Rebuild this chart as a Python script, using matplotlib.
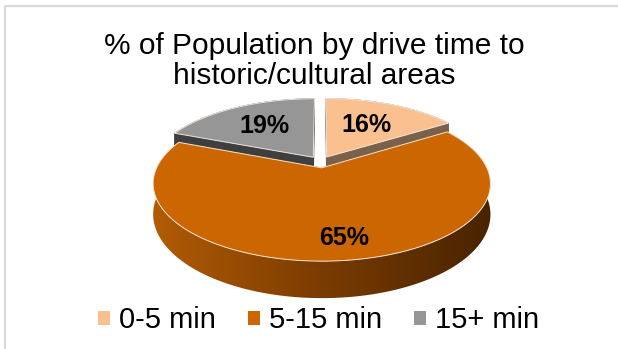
import numpy as np
import matplotlib
matplotlib.use("Agg")
import matplotlib.pyplot as plt
from matplotlib.patches import Polygon, Patch
from matplotlib.colors import LinearSegmentedColormap

# ---- data ----
categories = ["0-5 min", "5-15 min", "15+ min"]
shares = [16, 65, 19]
top_colors = ["#FAC090", "#CC6600", "#969696"]
side_colors = ["#7B6149", "#8A4500", "#3F3F3F"]
title_lines = ["% of Population by drive time to", "historic/cultural areas"]

FONT = "Liberation Sans"

# ---- 3-D pie geometry (pixel space, perspective view) ----
CX, CY = 320.5, 162.0      # centre of the top face
A, B = 162.5, 72.0         # horizontal / depth radii
K = 0.20                   # perspective strength
D = 29.0                   # thickness of the disc
EXPLODE = 0.08
LABEL_R = [0.58, 0.80, 0.60]
LABEL_DT = [0.0, -0.05, 0.0]


def project(x, z, down):
    w = 1.0 + K * np.asarray(z)
    return CX + A * np.asarray(x) / w, CY + (-B * np.asarray(z) + D * down) / w


def rim(theta, off, down):
    sx, sy = project(np.sin(theta) + off[0], np.cos(theta) + off[1], down)
    return np.column_stack([np.atleast_1d(sx), np.atleast_1d(sy)])


fig = plt.figure(figsize=(6.18, 3.49), dpi=100)
ax = fig.add_axes([0, 0, 1, 1])
ax.set_xlim(0, 618)
ax.set_ylim(349, 0)
ax.axis("off")

# chart-area frame
ax.plot([4.5, 618], [5.5, 5.5], color="#d9d9d9", lw=1.6, clip_on=False, solid_capstyle="butt")
ax.plot([4.5, 4.5], [5.5, 349], color="#d9d9d9", lw=1.6, clip_on=False, solid_capstyle="butt")

# slice angles, clockwise from 12 o'clock
total = float(sum(shares))
bounds = np.concatenate([[0.0], np.cumsum(shares) / total * 2 * np.pi])

side_cmap = LinearSegmentedColormap.from_list(
    "side", ["#B35C05", "#7A3C00", "#482300"])

draw_order = [2, 0, 1]
for i in draw_order:
    t0, t1 = bounds[i], bounds[i + 1]
    tm = 0.5 * (t0 + t1)
    off = (EXPLODE * np.sin(tm), EXPLODE * np.cos(tm))
    th = np.linspace(t0, t1, 240)
    apex_top = np.array(project(off[0], off[1], 0.0), dtype=float)
    apex_bot = np.array(project(off[0], off[1], 1.0), dtype=float)
    arc_top = rim(th, off, 0.0)
    arc_bot = rim(th, off, 1.0)

    # radial cut faces
    for t in (t0, t1):
        face = np.vstack([apex_top, rim(t, off, 0.0), rim(t, off, 1.0), apex_bot])
        ax.add_patch(Polygon(face, closed=True, facecolor=side_colors[i],
                             edgecolor=side_colors[i], lw=0.5))

    # outer curved face
    outer = np.vstack([arc_top, arc_bot[::-1]])
    if i == 1:
        clip = Polygon(outer, closed=True, facecolor="none", edgecolor="none")
        ax.add_patch(clip)
        grad = np.linspace(0, 1, 256)[None, :]
        img = ax.imshow(grad, cmap=side_cmap, aspect="auto",
                        extent=(CX - A * 1.05, CX + A * 1.05, 310, 120),
                        interpolation="bilinear")
        img.set_clip_path(clip)
    else:
        ax.add_patch(Polygon(outer, closed=True, facecolor=side_colors[i],
                             edgecolor=side_colors[i], lw=0.5))

    # top face
    top = np.vstack([apex_top, arc_top])
    ax.add_patch(Polygon(top, closed=True, facecolor=top_colors[i],
                         edgecolor="#F4E6D8", lw=0.7))

    # data label
    r = LABEL_R[i]
    ta = tm + LABEL_DT[i]
    lx, ly = project(r * np.sin(ta) + off[0], r * np.cos(ta) + off[1], 0.0)
    ax.text(float(lx), float(ly), f"{shares[i]}%", ha="center", va="center",
            fontsize=18, fontweight="bold", family=FONT, color="black")

# title
ax.text(314, 54, title_lines[0], ha="center", va="baseline",
        fontsize=21.5, family=FONT, color="black")
ax.text(314, 84, title_lines[1], ha="center", va="baseline",
        fontsize=21.5, family=FONT, color="black")

# legend
handles = [Patch(facecolor=c, edgecolor="none") for c in top_colors]
ax.legend(handles, categories, ncol=3, frameon=False, loc="center",
          bbox_to_anchor=(0.5154, 0.082), prop={"family": FONT, "size": 21},
          handlelength=0.41, handleheight=0.41, handletextpad=0.31,
          columnspacing=1.1, borderpad=0.0, borderaxespad=0.0)

fig.savefig("out.png", dpi=100)
